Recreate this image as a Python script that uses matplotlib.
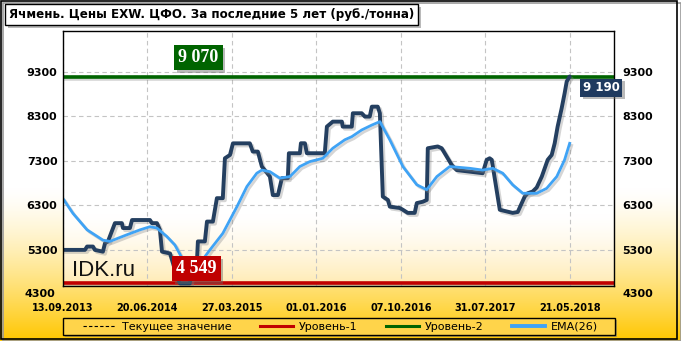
import numpy as np
import matplotlib
matplotlib.use('Agg')
import matplotlib.pyplot as plt
import matplotlib.patheffects as pe
from matplotlib.lines import Line2D
from matplotlib.patches import Rectangle

# data (x = week index from 13.09.2013)
price_idx = [0, 10.4, 11.4, 14.2, 15.1, 18.9, 19.9, 21.3, 24.6, 27.9, 28.4, 31.7, 32.7, 41.2, 42.1,
             44.5, 45.9, 46.9, 50.7, 52.1, 54.0, 55.4, 60.1, 61.1, 63.4, 63.9, 67.2, 68.2, 71.0, 72.9,
             75.7, 76.7, 79.1, 80.5, 88.5, 89.9, 92.3, 94.2, 98.0, 99.4, 101.8, 103.7, 106.5, 107.0,
             112.2, 112.7, 114.6, 115.5, 124.0, 125.0, 127.8, 132.1, 132.5, 136.8, 137.3, 141.5, 143.0,
             145.3, 146.3, 149.1, 150.1, 151.5, 153.9, 154.8, 159.5, 161.0, 163.3, 166.6, 167.6, 170.4,
             172.3, 172.8, 177.5, 179.4, 184.2, 186.5, 192.7, 198.8, 200.7, 202.1, 203.1, 206.9, 213.0,
             215.4, 218.7, 220.1, 222.5, 224.4, 226.8, 229.6, 231.5, 232.9, 234.3, 236.2, 237.6, 238.6,
             240.0]
price_val = [5300, 5300, 5375, 5375, 5300, 5260, 5450, 5490, 5900, 5900, 5790, 5790, 5970, 5970, 5900,
             5900, 5750, 5260, 5220, 5000, 4700, 4549, 4549, 4925, 5000, 5490, 5490, 5935, 5935, 6460,
             6460, 7355, 7430, 7690, 7690, 7505, 7505, 7170, 6945, 6530, 6530, 6910, 6910, 7468,
             7468, 7692, 7692, 7468, 7468, 8065, 8177, 8177, 8065, 8065, 8365, 8365, 8290,
             8290, 8513, 8513, 8365, 6495, 6420, 6270, 6240, 6200, 6130, 6130, 6350, 6380,
             6420, 7580, 7620, 7580, 7200, 7090, 7055, 7020, 7320, 7355, 7320, 6200, 6130,
             6150, 6495, 6570, 6610, 6700, 6945, 7320, 7430, 7690, 8065, 8475, 8810, 9075,
             9190]

ema_idx = [0, 4.7, 11.4, 18.9, 22.2, 30.3, 36.5, 41.2, 44.5, 49.2, 53.0, 56.8, 60.1, 64.9, 69.6,
           75.7, 82.4, 87.1, 91.8, 94.2, 98.0, 102.7, 107.5, 112.2, 116.9, 123.1, 127.8, 133.5, 136.8,
           141.5, 146.3, 150.1, 154.8, 161.0, 167.6, 172.3, 177.1, 183.2, 192.7, 198.8, 203.6, 208.3,
           213.0, 217.8, 224.4, 229.1, 233.9, 237.6, 240.0]
ema_val = [6450, 6120, 5750, 5520, 5490, 5640, 5750, 5820, 5790, 5600, 5410, 5080, 4850, 5000, 5300,
           5670, 6270, 6720, 7020, 7090, 7055, 6910, 6945, 7170, 7280, 7355, 7580, 7770, 7840,
           7990, 8100, 8177, 7770, 7170, 6760, 6650, 6945, 7170, 7130, 7090, 7130, 7020,
           6760, 6570, 6570, 6680, 6945, 7320, 7690]

date_ticks = [0, 40, 80, 120, 160, 200, 240]
date_labels = ['13.09.2013', '20.06.2014', '27.03.2015', '01.01.2016',
               '07.10.2016', '31.07.2017', '21.05.2018']
y_ticks = [5300, 6300, 7300, 8300, 9300]
y_low_label = 4300

current_value = 9190
level1 = 4549
level2 = 9180
level1_label = '4 549'
level2_label = '9 070'
current_label = '9 190'

title = 'Ячмень. Цены EXW. ЦФО. За последние 5 лет (руб./тонна)'

c_price = '#243F60'
c_ema = '#3FA3F5'
c_red = '#C00000'
c_green = '#006400'

fig = plt.figure(figsize=(6.81, 3.41), dpi=100)

# figure background gradient (white -> gold)
bg = fig.add_axes([0, 0, 1, 1], zorder=-10)
t = np.linspace(0, 1, 341)[:, None]
k = np.clip((t - 0.55) / 0.45, 0, 1) ** 1.4
gold = np.array([1.0, 0.78, 0.0])
img = (1 - k)[..., None] * np.ones(3) + k[..., None] * gold
bg.imshow(img, aspect='auto', extent=[0, 1, 0, 1])
bg.set_xlim(0, 1)
bg.set_ylim(0, 1)
bg.axis('off')

# outer frame with a soft shadow
fig.patches.append(Rectangle((0.005, 0.0), 0.995, 0.99, transform=fig.transFigure,
                             fill=False, ec='#999999', lw=1.2, zorder=-5))
fig.patches.append(Rectangle((0.0015, 0.007), 0.992, 0.99, transform=fig.transFigure,
                             fill=False, ec='black', lw=1.2, zorder=-4))

ax = fig.add_axes([0.0925, 0.1613, 0.8091, 0.7478])
ax.set_facecolor('none')
ta = np.linspace(0, 1, 300)[:, None]
ka = np.clip((ta - 0.72) / 0.28, 0, 1) ** 1.4
light = np.array([1.0, 0.92, 0.70])
img2 = (1 - ka)[..., None] * np.ones(3) + ka[..., None] * light
ax.imshow(img2, aspect='auto', extent=[0, 1, 0, 1], transform=ax.transAxes, zorder=0)

shadow = [pe.SimpleLineShadow(offset=(1.5, -1.5), shadow_color='#888888', alpha=0.35), pe.Normal()]

ax.axhline(current_value, color='black', lw=0.8, ls=(0, (4, 3)), zorder=2)
ax.axhline(level1, color=c_red, lw=2.6, zorder=3, path_effects=shadow)
ax.axhline(level2, color=c_green, lw=2.6, zorder=3, path_effects=shadow)
ax.plot(price_idx, price_val, color=c_price, lw=2.8, solid_joinstyle='round',
        solid_capstyle='round', zorder=4, path_effects=shadow)
ax.plot(ema_idx, ema_val, color=c_ema, lw=2.0, zorder=5, path_effects=shadow)

ax.set_xlim(0, 261)
ax.set_ylim(4490, 10210)
ax.set_xticks(date_ticks)
ax.set_xticklabels(date_labels, fontsize=7, fontweight='bold')
ax.set_yticks(y_ticks)
ax.set_yticklabels([str(v) for v in y_ticks], fontsize=8, fontweight='bold')
ax.tick_params(axis='x', length=0, pad=12)
ax.tick_params(axis='y', length=0, pad=4)
ax.grid(True, color='#C4C4C4', ls=(0, (4, 3)), lw=0.8, zorder=1)
ax.set_axisbelow(False)
for s in ax.spines.values():
    s.set_color('black')
    s.set_linewidth(1)
    s.set_zorder(6)

ax2 = ax.twinx()
ax2.set_ylim(ax.get_ylim())
ax2.set_yticks(y_ticks)
ax2.set_yticklabels([str(v) for v in y_ticks], fontsize=8, fontweight='bold')
ax2.tick_params(axis='y', length=0, pad=6)
ax2.patch.set_visible(False)
for s in ax2.spines.values():
    s.set_visible(False)

# 4300 labels sit below the plotting range
ax.annotate(str(y_low_label), xy=(0, y_low_label), xycoords=('axes fraction', 'data'),
            xytext=(-5.5, 0), textcoords='offset points', ha='right', va='center',
            fontsize=8, fontweight='bold', annotation_clip=False)
ax.annotate(str(y_low_label), xy=(1, y_low_label), xycoords=('axes fraction', 'data'),
            xytext=(6, 0), textcoords='offset points', ha='left', va='center',
            fontsize=8, fontweight='bold', annotation_clip=False)

box_shadow = [pe.SimplePatchShadow(offset=(2, -2), shadow_rgbFace='#666666', alpha=0.45), pe.Normal()]


def tag(x, y, text, fc, family, size):
    tx = ax.text(x, y, text, transform=ax.transAxes, ha='center', va='center',
                 color='white', fontsize=size, fontweight='bold', family=family, zorder=8,
                 bbox=dict(boxstyle='square,pad=0.22', fc=fc, ec='none'))
    tx.get_bbox_patch().set_path_effects(box_shadow)
    tx.set_clip_on(False)
    return tx


tag(0.246, 0.896, level2_label, c_green, 'Liberation Serif', 13)
tag(0.2423, 0.0686, level1_label, c_red, 'Liberation Serif', 13)
tag(0.977, 0.778, current_label, '#1F3A5F', 'DejaVu Sans', 8.5)

ax.text(0.016, 0.06, 'IDK.ru', transform=ax.transAxes, fontsize=16, family='Liberation Sans',
        color='#111111', ha='left', va='center', zorder=7)

# title box
tt = fig.text(0.013, 1 - 14.5 / 341, title, fontsize=8.6, fontweight='bold', va='center', ha='left',
              bbox=dict(boxstyle='square,pad=0.32', fc='white', ec='black', lw=1))
tt.get_bbox_patch().set_path_effects(box_shadow)

# legend: frame drawn separately so it can span the plot width
fig.patches.append(Rectangle((65 / 681, 1 - 337 / 341), 552 / 681, 17 / 341, transform=fig.transFigure,
                             fill=True, fc='#777777', alpha=0.5, ec='none', zorder=1))
fig.patches.append(Rectangle((63 / 681, 1 - 335 / 341), 552 / 681, 17 / 341, transform=fig.transFigure,
                             fill=True, fc='#FFD44A', ec='black', lw=1, zorder=2))
handles = [
    Line2D([0], [0], color='black', lw=0.8, ls=(0, (3, 2))),
    Line2D([0], [0], color=c_red, lw=2.2),
    Line2D([0], [0], color=c_green, lw=2.2),
    Line2D([0], [0], color=c_ema, lw=2.8),
]
labels = ['Текущее значение', 'Уровень-1', 'Уровень-2', 'EMA(26)']
leg = fig.legend(handles, labels, loc='center', ncol=4, bbox_to_anchor=(340.5 / 681, 1 - 326.5 / 341),
                 fontsize=8, frameon=False, handlelength=3.0, handletextpad=0.55,
                 columnspacing=2.5, borderpad=0, borderaxespad=0)
leg.set_zorder(3)

fig.savefig('out.png', dpi=100)
